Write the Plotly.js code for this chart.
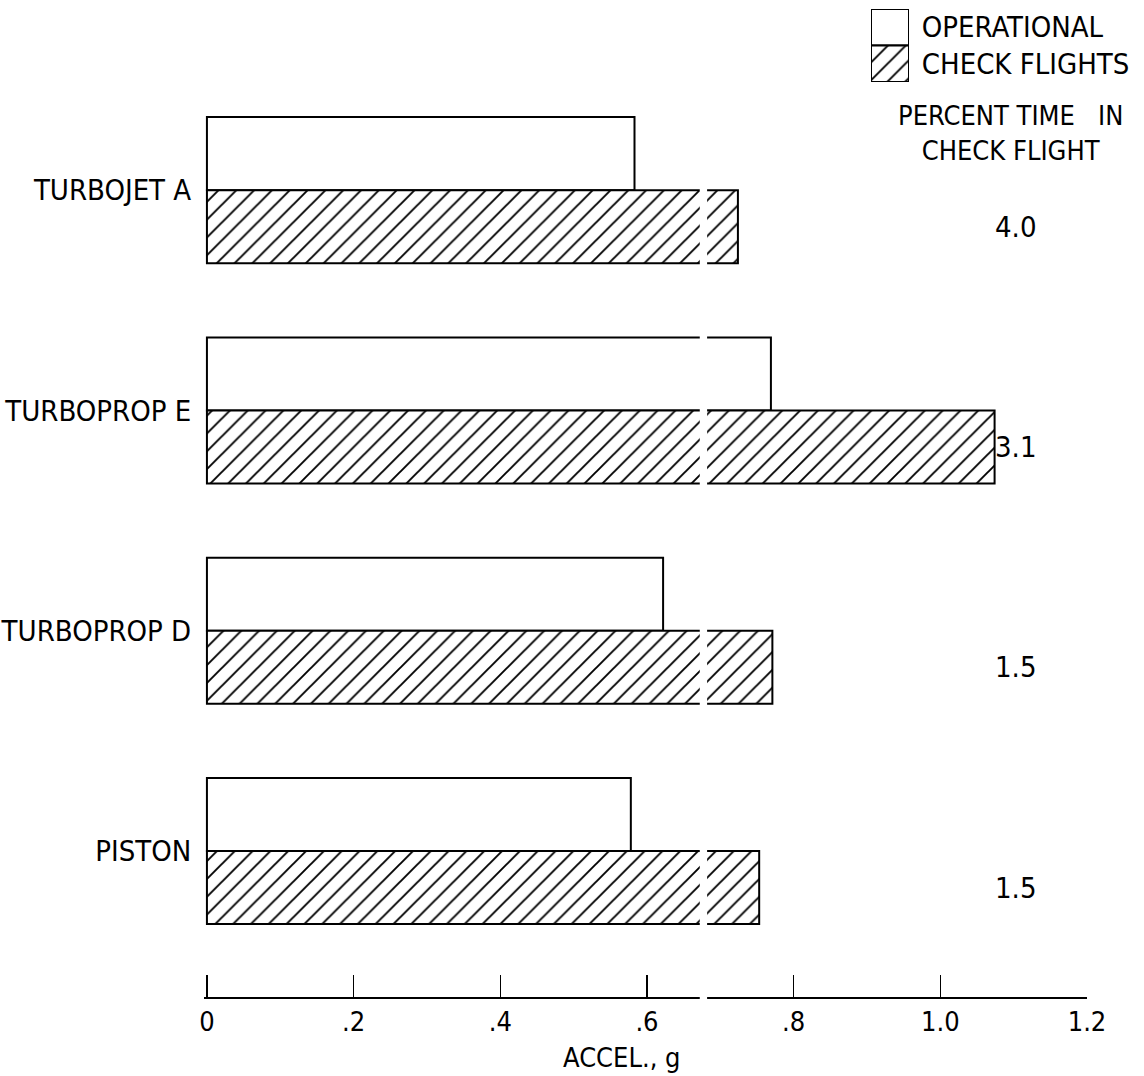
<!DOCTYPE html>
<html>
<head>
<meta charset="utf-8">
<script src="https://cdn.plot.ly/plotly-3.0.1.min.js"></script>
<style>
  html, body { margin: 0; padding: 0; background: #fff; }
  #chart { width: 1144px; height: 1076px; }
</style>
</head>
<body>
<div id="chart"></div>
<script>
// ---- data ----
const categories = ["TURBOJET A", "TURBOPROP E", "TURBOPROP D", "PISTON"];
const operational = [0.583, 0.769, 0.622, 0.578];
const checkFlights = [0.724, 1.074, 0.771, 0.753];
const percentTime = ["4.0", "3.1", "1.5", "1.5"];
const xTickVals = [0, 0.2, 0.4, 0.6, 0.8, 1.0, 1.2];
const xTickText = ["0", ".2", ".4", ".6", ".8", "1.0", "1.2"];
const legendNames = ["OPERATIONAL", "CHECK FLIGHTS"];

const FONT = '"Liberation Sans Narrow", "DejaVu Sans Condensed", "Arial Narrow", sans-serif';
const FS = 29;
const HATCH = { shape: "/", fgcolor: "#000", bgcolor: "#fff", size: 12.6, solidity: 0.15 };

const traces = [
  {
    type: "bar", orientation: "h", name: legendNames[0],
    y: categories, x: operational,
    marker: { color: "#ffffff", line: { color: "#000", width: 2 } },
    hoverinfo: "x+y", showlegend: false
  },
  {
    type: "bar", orientation: "h", name: legendNames[1],
    y: categories, x: checkFlights,
    marker: {
      color: "#ffffff",
      line: { color: "#000", width: 2 },
      pattern: HATCH
    },
    hoverinfo: "x+y", showlegend: false
  },
  // legend swatch box (custom legend)
  {
    type: "bar", orientation: "h",
    y: legendNames, x: [1, 1], width: [1, 1],
    xaxis: "x2", yaxis: "y2",
    marker: {
      color: "#ffffff",
      line: { color: "#000", width: 2 },
      pattern: Object.assign({}, HATCH, { shape: ["", "/"] })
    },
    hoverinfo: "skip", showlegend: false
  }
];

const annotations = [];
percentTime.forEach((t, i) => {
  annotations.push({
    xref: "x", yref: "y", x: 1.102, y: i + 0.166,
    text: t, showarrow: false, xanchor: "center", yanchor: "middle",
    font: { family: FONT, size: FS, color: "#000" }
  });
});
annotations.push({
  xref: "paper", yref: "paper", x: (1010 - 204) / 883, y: (997 - 133) / 992,
  text: "PERCENT TIME\u00a0\u00a0 IN<br>CHECK FLIGHT", showarrow: false,
  xanchor: "center", yanchor: "middle", align: "center",
  font: { family: FONT, size: 27, color: "#000" }
});
annotations.push({
  xref: "paper", yref: "paper", x: (622 - 204) / 883, y: (997 - 1057) / 992,
  text: "ACCEL., g", showarrow: false, xanchor: "center", yanchor: "middle",
  font: { family: FONT, size: 27, color: "#000" }
});

const layout = {
  width: 1144, height: 1076,
  margin: { l: 204, r: 57, t: 5, b: 79 },
  paper_bgcolor: "#fff", plot_bgcolor: "#fff",
  barmode: "group", bargap: 0.337, bargroupgap: 0,
  showlegend: false,
  font: { family: FONT, size: FS, color: "#000" },
  xaxis: {
    range: [-0.004, 1.2], domain: [0, 1],
    tickvals: xTickVals, ticktext: xTickText,
    ticks: "inside", ticklen: 22, tickwidth: 1.5, tickcolor: "#000",
    showline: true, linecolor: "#000", linewidth: 1.5,
    showgrid: false, zeroline: false,
    tickfont: { family: FONT, size: 27, color: "#000" },
    anchor: "y"
  },
  yaxis: {
    type: "category",
    range: [3.663, -0.5], domain: [0, (997 - 80) / 992],
    showgrid: false, zeroline: false, showline: false,
    ticks: "outside", ticklen: 6, tickcolor: "rgba(0,0,0,0)",
    tickfont: { family: FONT, size: FS, color: "#000" },
    anchor: "x"
  },
  xaxis2: {
    domain: [(871 - 204) / 883, (909 - 204) / 883],
    range: [0, 1], anchor: "y2",
    showgrid: false, zeroline: false, showline: false, showticklabels: false, ticks: ""
  },
  yaxis2: {
    type: "category",
    domain: [(997 - 82) / 992, (997 - 9) / 992],
    range: [1.5, -0.5], anchor: "x2", side: "right",
    showgrid: false, zeroline: false, showline: false,
    ticks: "outside", ticklen: 6, tickcolor: "rgba(0,0,0,0)",
    tickfont: { family: FONT, size: FS, color: "#000" }
  },
  shapes: [
    // scanning artifact: thin white vertical gap through the lower bars and axis
    { type: "rect", xref: "x", yref: "paper", x0: 0.672, x1: 0.682,
      y0: -0.01, y1: (997 - 188) / 992, fillcolor: "#fff", line: { width: 0 }, layer: "above" }
  ],
  annotations: annotations
};

Plotly.newPlot("chart", traces, layout, { displayModeBar: false, staticPlot: true });
</script>
</body>
</html>
